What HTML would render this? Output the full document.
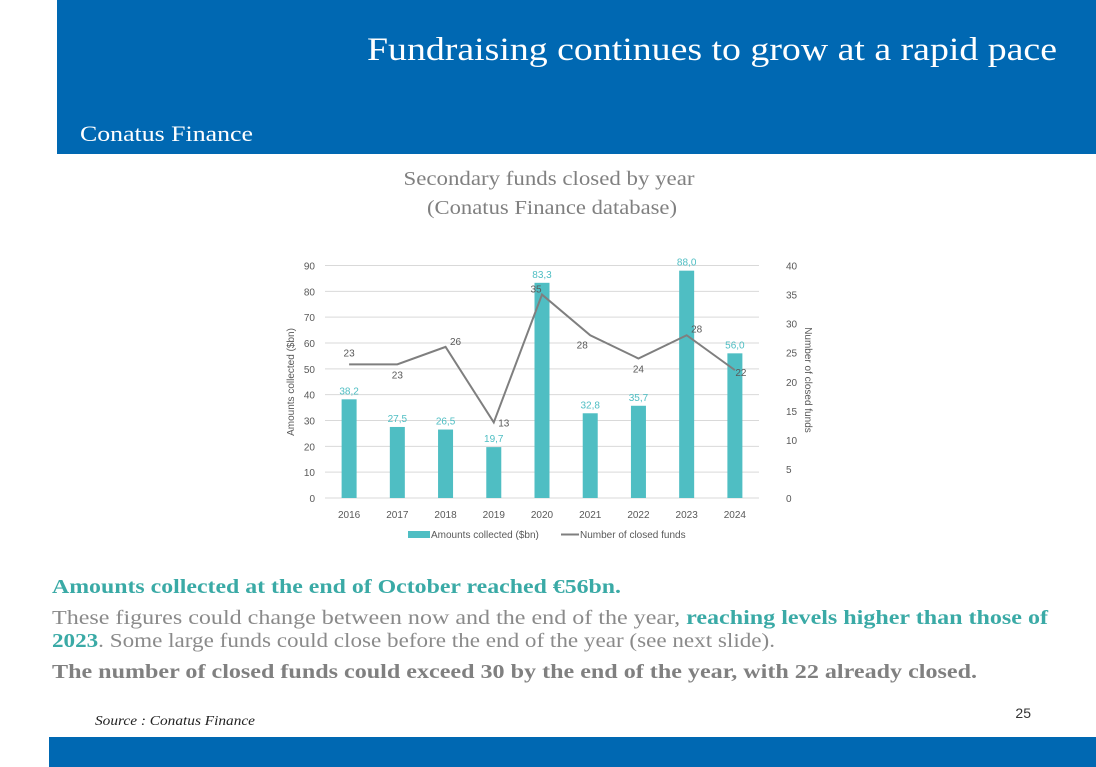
<!DOCTYPE html>
<html><head><meta charset="utf-8"><style>
body{margin:0;background:#fff;}
svg{display:block;font-family:"Liberation Serif",serif;}
</style></head><body>
<svg width="1096" height="767" viewBox="0 0 1096 767">
<rect x="57" y="0" width="1039" height="154" fill="#0068b2"/>
<text x="1057" y="60" text-anchor="end" font-size="33" fill="#fff" textLength="690" lengthAdjust="spacingAndGlyphs">Fundraising continues to grow at a rapid pace</text>
<text x="80" y="141" font-size="22" fill="#fff" textLength="173" lengthAdjust="spacingAndGlyphs">Conatus Finance</text>
<text x="549" y="185" text-anchor="middle" font-size="20" fill="#808080" textLength="291" lengthAdjust="spacingAndGlyphs">Secondary funds closed by year</text>
<text x="552" y="214" text-anchor="middle" font-size="20" fill="#808080" textLength="250" lengthAdjust="spacingAndGlyphs">(Conatus Finance database)</text>
<g id="chart" font-family="Liberation Sans, sans-serif"></g>
<text x="52" y="593" font-size="20" font-weight="bold" fill="#3aaaa6" textLength="569" lengthAdjust="spacingAndGlyphs">Amounts collected at the end of October reached €56bn.</text>
<text x="52" y="624" font-size="20" fill="#8a8a8a" textLength="996" lengthAdjust="spacingAndGlyphs">These figures could change between now and the end of the year, <tspan fill="#3aaaa6" font-weight="bold">reaching levels higher than those of</tspan></text>
<text x="52" y="647" font-size="20" fill="#8a8a8a" textLength="723" lengthAdjust="spacingAndGlyphs"><tspan fill="#3aaaa6" font-weight="bold">2023</tspan>. Some large funds could close before the end of the year (see next slide).</text>
<text x="52" y="678" font-size="20" font-weight="bold" fill="#808080" textLength="925" lengthAdjust="spacingAndGlyphs">The number of closed funds could exceed 30 by the end of the year, with 22 already closed.</text>
<text x="95" y="725" font-size="14" font-style="italic" fill="#222" textLength="160" lengthAdjust="spacingAndGlyphs">Source : Conatus Finance</text>
<text x="1031" y="718" text-anchor="end" font-size="14" fill="#333" font-family="Liberation Sans, sans-serif">25</text>
<rect x="49" y="737" width="1047" height="30" fill="#0068b2"/>
</svg>
<script>
const years=["2016","2017","2018","2019","2020","2021","2022","2023","2024"];
const amounts=[38.2,27.5,26.5,19.7,83.3,32.8,35.7,88.0,56.0];
const funds=[23,23,26,13,35,28,24,28,22];
const leftTicks=[0,10,20,30,40,50,60,70,80,90];
const rightTicks=[0,5,10,15,20,25,30,35,40];
const NS="http://www.w3.org/2000/svg";
const g=document.getElementById('chart');
const X0=325,X1=759,Y0=498,Y1=265.5;
const yL=v=>Y0-(v/90)*(Y0-Y1);
const yR=v=>Y0-(v/40)*(Y0-Y1);
const step=(X1-X0)/years.length;
const xc=i=>X0+step*(i+0.5);
function mk(t,a,txt){const e=document.createElementNS(NS,t);for(const k in a)e.setAttribute(k,a[k]);if(txt!==undefined)e.textContent=txt;g.appendChild(e);return e;}
leftTicks.forEach(v=>{
 const l=mk('line',{x1:X0,x2:X1,y1:yL(v),y2:yL(v),stroke:'#d9d9d9','stroke-width':1});
 
 
 const t=mk('text',{x:315,y:yL(v)+4,'text-anchor':'end','font-size':10,fill:'#595959'},String(v));
 
 
});
rightTicks.forEach(v=>{
 const t=mk('text',{x:786,y:yR(v)+4,'font-size':10,fill:'#595959'},String(v));
 
 
});
const bw=15;
years.forEach((y,i)=>{
 const r=mk('rect',{x:xc(i)-bw/2,y:yL(amounts[i]),width:bw,height:Y0-yL(amounts[i]),fill:'#4fbec3'});
 
 
 const t=mk('text',{x:xc(i),y:yL(amounts[i])-5,'text-anchor':'middle','font-size':10,fill:'#4fbec3'},amounts[i].toFixed(1).replace('.',','));
 
 
 const c=mk('text',{x:xc(i),y:518,'text-anchor':'middle','font-size':10,fill:'#595959'},y);
 
 
});
const pts=funds.map((v,i)=>xc(i)+','+yR(v)).join(' ');
const pl=mk('polyline',{points:pts,fill:'none',stroke:'#7f7f7f','stroke-width':2});


const off=[[0,-8],[0,14],[10,-2],[10,4],[-6,-2],[-8,13],[0,14],[10,-3],[6,6]];
funds.forEach((v,i)=>{
 const t=mk('text',{x:xc(i)+off[i][0],y:yR(v)+off[i][1],'text-anchor':'middle','font-size':10,fill:'#595959'},String(v));
 
 
});
const a1=mk('text',{x:294,y:382,'text-anchor':'middle','font-size':10,fill:'#595959',transform:'rotate(-90 294 382)'},'Amounts collected ($bn)');


const a2=mk('text',{x:805,y:380,'text-anchor':'middle','font-size':10,fill:'#595959',transform:'rotate(90 805 380)'},'Number of closed funds');


const lr=mk('rect',{x:408,y:531,width:22,height:7,fill:'#4fbec3'});


const lt=mk('text',{x:431,y:538,'font-size':10,fill:'#595959'},'Amounts collected ($bn)');


const ll=mk('line',{x1:561,x2:579,y1:534.5,y2:534.5,stroke:'#7f7f7f','stroke-width':2});


const lt2=mk('text',{x:580,y:538,'font-size':10,fill:'#595959'},'Number of closed funds');


</script>
</body></html>
